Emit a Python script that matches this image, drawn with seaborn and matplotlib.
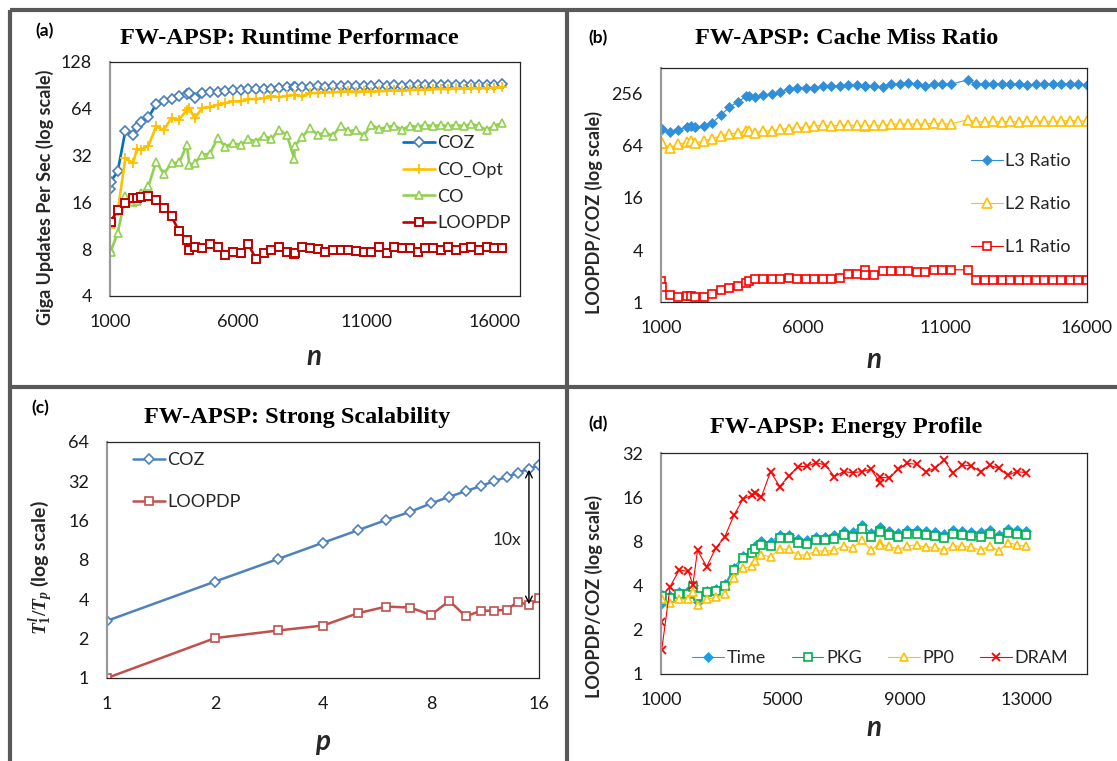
import matplotlib
matplotlib.use("Agg")
import matplotlib.pyplot as plt
import seaborn as sns
from matplotlib.lines import Line2D

# ---------------- data ----------------
# (a) runtime performance
n_a = [1000, 1024, 1300, 1600, 1900, 2048,
       2200, 2500, 2800, 3100, 3400, 3700, 4000,
       4096,
       4300, 4600, 4900, 5200, 5500, 5800, 6100, 6400, 6700, 7000, 7300, 7600, 7900,
       8192,
       8200, 8500, 8800, 9100, 9400, 9700, 10000, 10300, 10600, 10900,
       11200, 11500, 11800, 12100, 12400, 12700, 13000,
       13300, 13600, 13900, 14200, 14500, 14800, 15100, 15400, 15700, 16000, 16300]
coz_a = [19.5, 21.8, 25.3, 46.2, 43.6, 48.8,
         52.3, 56.3, 68.6, 71.4, 73.9, 76.9, 79.6,
         80.8,
         75.0, 80.8, 82.4, 82.4, 83.7, 84.9, 84.9, 85.3, 85.3, 85.7, 85.7, 87.5, 88.0,
         88.0,
         88.0, 88.0, 89.0, 89.5, 89.0, 90.0, 89.5, 90.0, 89.5, 90.0,
         90.0, 90.5, 90.0, 90.5, 90.0, 90.5, 91.0,
         90.5, 91.0, 90.5, 91.0, 91.0, 91.5, 91.0, 91.5, 91.5, 91.0, 92.0]
coopt_a = [11.0, 12.0, 14.0, 30.8, 28.6, 35.2,
           34.9, 37.0, 49.3, 46.9, 55.8, 54.4, 63.1,
           64.7,
           55.8, 64.7, 65.7, 68.0, 69.7, 71.4, 71.4, 73.9, 73.9, 75.0, 76.9, 76.0, 77.6,
           78.9,
           78.9, 76.9, 80.8, 80.8, 81.6, 81.6, 82.4, 82.8, 81.6, 82.8,
           82.4, 83.0, 83.5, 84.0, 83.5, 84.5, 85.0,
           84.5, 85.5, 86.0, 85.5, 86.5, 86.0, 87.0, 86.5, 87.0, 87.5, 88.0]
co_a = [8.0, 7.7, 10.2, 17.5, 16.0, 16.4,
        18.3, 20.3, 29.3, 24.4, 28.6, 28.9, 37.5,
        27.9,
        28.6, 32.4, 33.0, 41.5, 36.6, 38.5, 37.5, 40.9, 39.4, 42.9, 41.0, 46.9, 43.6,
        30.4,
        36.8, 42.1, 48.1, 43.6, 45.1, 42.9, 49.8, 45.8, 46.9, 42.9,
        50.5, 47.4, 48.9, 49.8, 46.9, 49.8, 48.9,
        50.5, 49.3, 50.5, 49.3, 50.5, 49.3, 51.3, 49.3, 46.9, 49.8, 51.8]
loopdp_a = [12.0, 12.0, 14.3, 15.9, 17.0, 17.0,
            17.4, 17.5, 16.6, 14.7, 13.0, 10.4, 9.2,
            7.9,
            8.3, 8.1, 8.7, 8.3, 7.3, 7.7, 7.6, 8.6, 6.9, 7.6, 7.9, 8.3, 7.7,
            7.5,
            7.6, 8.3, 8.1, 8.0, 7.7, 7.9, 7.9, 7.9, 7.8, 7.7,
            7.7, 8.3, 7.6, 8.3, 8.2, 8.1, 7.7,
            8.2, 8.2, 7.9, 8.3, 7.9, 8.2, 8.3, 7.9, 8.3, 8.1, 8.1]

# (b) cache miss ratio
n_b = [1000, 1024, 1300, 1600, 1900, 2048,
       2200, 2500, 2800, 3100, 3400, 3700, 4000,
       4096,
       4300, 4600, 4900, 5200, 5500, 5800, 6100, 6400, 6700, 7000, 7300, 7600, 7900,
       8192,
       8200, 8500, 8800, 9100, 9400, 9700, 10000, 10300, 10600, 10900,
       11200,
       11800, 12100, 12400, 12700, 13000,
       13300, 13600, 13900, 14200, 14500, 14800, 15100, 15400, 15700, 16000]
l3_b = [102, 100, 94, 99, 105, 108,
        105, 108, 118, 146, 179, 208, 240,
        245,
        234, 249, 256, 268, 293, 298, 303, 303, 314, 320, 320, 325, 325,
        320,
        320, 314, 307, 332, 335, 341, 335, 314, 335, 332,
        332,
        373, 332, 332, 332, 332,
        332, 332, 325, 332, 332, 332, 332, 332, 335, 325]
l2_b = [70, 70, 61, 67, 71, 73,
        70, 73, 78, 84, 88, 91, 96,
        96,
        91, 96, 96, 100, 102, 105, 105, 110, 111, 110, 111, 111, 111,
        109,
        111, 111, 111, 114, 115, 115, 115, 115, 118, 115,
        115,
        129, 122, 122, 123, 122,
        123, 122, 123, 124, 124, 123, 125, 126, 125, 124]
l1_b = [1.77, 1.51, 1.21, 1.15, 1.18, 1.18,
        1.15, 1.15, 1.24, 1.36, 1.44, 1.54, 1.68,
        1.77,
        1.85, 1.85, 1.85, 1.85, 1.89, 1.85, 1.85, 1.85, 1.85, 1.85, 1.89, 2.10, 2.10,
        2.36,
        2.06, 2.06, 2.26, 2.26, 2.26, 2.26, 2.22, 2.20, 2.36, 2.36,
        2.36,
        2.36, 1.80, 1.80, 1.80, 1.80,
        1.80, 1.80, 1.80, 1.80, 1.80, 1.80, 1.80, 1.80, 1.80, 1.80]

# (c) strong scalability
p_c = [1, 2, 3, 4, 5, 6, 7, 8, 9, 10, 11, 12, 13, 14, 15, 16]
coz_c = [2.74, 5.47, 8.15, 10.85, 13.5, 16.2, 18.7, 21.7, 24.4, 26.9, 29.4, 32.1,
         34.6, 37.2, 40.1, 42.3]
loopdp_c = [1.0, 2.02, 2.31, 2.52, 3.13, 3.52, 3.46, 3.04, 3.89, 2.96, 3.27, 3.28,
            3.32, 3.85, 3.59, 4.08]

# (d) energy profile
n_d = [1000, 1024, 1300, 1600, 1900, 2048,
       2200, 2500, 2800, 3100, 3400, 3700, 4000,
       4096,
       4300, 4600, 4900, 5200, 5500, 5800, 6100, 6400, 6700, 7000, 7300, 7600, 7900,
       8192,
       8200, 8500, 8800, 9100, 9400, 9700, 10000, 10300, 10600, 10900,
       11200, 11500, 11800, 12100, 12400, 12700, 13000]
time_d = [3.0, 3.45, 3.4, 3.6, 3.65, 4.05,
          3.1, 3.7, 3.8, 4.1, 5.3, 6.4, 7.0,
          7.5,
          8.0, 7.9, 8.9, 8.9, 8.3, 8.2, 8.6, 8.6, 8.8, 9.4, 9.2, 10.4, 9.1,
          10.1,
          9.9, 9.4, 9.1, 9.5, 9.6, 9.4, 9.3, 9.0, 9.5, 9.4,
          9.3, 9.2, 9.5, 8.9, 9.7, 9.5, 9.4]
pkg_d = [3.42, 3.42, 3.3, 3.49, 3.5, 3.94,
         3.42, 3.59, 3.7, 3.98, 5.11, 6.14, 6.64,
         7.07,
         7.57, 7.45, 8.4, 8.4, 7.84, 7.74, 8.18, 8.18, 8.3, 8.85, 8.6, 9.67, 8.53,
         9.47,
         9.3, 8.85, 8.53, 8.95, 9.0, 8.85, 8.7, 8.45, 8.95, 8.85,
         8.75, 8.6, 8.95, 8.3, 9.1, 8.95, 8.85]
pp0_d = [3.23, 3.23, 3.03, 3.23, 3.23, 3.63,
         2.95, 3.23, 3.33, 3.5, 4.5, 5.25, 5.44,
         5.91,
         6.46, 6.3, 7.07, 7.07, 6.46, 6.46, 6.92, 6.83, 6.98, 7.45, 7.2, 8.18, 6.98,
         7.75,
         7.6, 7.45, 7.07, 7.45, 7.57, 7.3, 7.3, 6.98, 7.45, 7.4,
         7.3, 6.98, 7.45, 6.9, 7.85, 7.57, 7.4]
dram_d = [2.27, 1.46, 3.94, 5.12, 4.99, 4.04,
          6.97, 5.38, 7.2, 8.63, 12.1, 15.6, 16.5,
          17.2,
          16.1, 23.9, 18.9, 22.3, 25.8, 26.0, 27.5, 26.5, 22.1, 23.9, 23.5, 23.9, 24.8,
          20.1,
          21.9, 21.6, 24.8, 27.2, 26.8, 23.9, 25.1, 28.6, 23.5, 26.5,
          26.1, 23.9, 26.5, 25.1, 22.6, 23.9, 23.5]

# tick values / labels
yt_a = [4, 8, 16, 32, 64, 128]
yt_b = [1, 4, 16, 64, 256]
yt_c = [1, 2, 4, 8, 16, 32, 64]
yt_d = [1, 2, 4, 8, 16, 32]
xt_ab = [1000, 6000, 11000, 16000]
xt_c = [1, 2, 4, 8, 16]
xt_d = [1000, 5000, 9000, 13000]

# ---------------- style ----------------
sns.set_theme(style="white")
plt.rcParams["font.family"] = ["Lato", "DejaVu Sans"]
plt.rcParams["mathtext.fontset"] = "custom"
plt.rcParams["mathtext.it"] = "Liberation Serif:bold:italic"
plt.rcParams["mathtext.rm"] = "Liberation Serif:bold"
plt.rcParams["mathtext.bf"] = "Liberation Serif:bold"

W, H = 1117, 761
fig = plt.figure(figsize=(W / 100, H / 100), dpi=100)
fig.patch.set_facecolor("white")


def rect(l, t, r, b):
    return [l / W, 1 - b / H, (r - l) / W, (b - t) / H]


ax_a = fig.add_axes(rect(110, 62, 520, 296))
ax_b = fig.add_axes(rect(661, 68, 1087, 302))
ax_c = fig.add_axes(rect(107, 442, 539, 678))
ax_d = fig.add_axes(rect(661, 453, 1087, 674))


def series(ax, x, y, color, marker, ms, lw, label, mfc="white", mec=None, mew=1.2, z=2):
    sns.lineplot(x=x, y=y, ax=ax, color=color, marker=marker, markersize=ms,
                 linewidth=lw, markerfacecolor=mfc,
                 markeredgecolor=mec if mec else color, markeredgewidth=mew,
                 label=label, estimator=None, sort=False, zorder=z)


# (a)
series(ax_a, n_a, coz_a, "#0070C0", "D", 4.8, 1.9, "COZ", mec="#4A7EBB")
series(ax_a, n_a, coopt_a, "#FFC000", "+", 6.8, 1.9, "CO_Opt", mew=1.3)
series(ax_a, n_a, co_a, "#92D050", "^", 6.3, 1.9, "CO")
series(ax_a, n_a, loopdp_a, "#C00000", "s", 6.4, 1.9, "LOOPDP", mew=1.4)

# (b)
series(ax_b, n_b, l3_b, "#2F8FDA", "D", 4.8, 0.8, "L3 Ratio", mfc="#2F8FDA", mew=0.5)
series(ax_b, n_b, l2_b, "#FFC000", "^", 6.5, 0.8, "L2 Ratio")
series(ax_b, n_b, l1_b, "#FF0000", "s", 6.2, 0.8, "L1 Ratio")

# (c)
series(ax_c, p_c, coz_c, "#4F81BD", "D", 4.6, 1.8, "COZ")
series(ax_c, p_c, loopdp_c, "#C0504D", "s", 6.4, 1.8, "LOOPDP")

# (d)
series(ax_d, n_d, time_d, "#1BA1E2", "D", 4.8, 0.8, "Time", mfc="#1BA1E2", mew=0.5)
series(ax_d, n_d, pkg_d, "#00B050", "s", 6.2, 0.8, "PKG")
series(ax_d, n_d, pp0_d, "#FFC000", "^", 6.2, 0.8, "PP0")
series(ax_d, n_d, dram_d, "#FF0000", "x", 6.2, 0.8, "DRAM", mew=1.3)

# annotation in (c)
ax_c.annotate("", xy=(p_c[14], loopdp_c[14] * 1.02), xytext=(p_c[14], coz_c[14] * 0.98),
              arrowprops=dict(arrowstyle="<->", color="black", lw=1.0,
                              shrinkA=0, shrinkB=0, mutation_scale=12))
ax_c.text(13.0, 11.4, "10x", fontsize=12.5, ha="center", va="center", color="#262626")

# axes formatting
tick_fs = 13
for ax, yt, xt, xlim, ylim, logx in [
    (ax_a, yt_a, xt_ab, (1000, 17000), (4, 128), False),
    (ax_b, yt_b, xt_ab, (1000, 16000), (1, 512), False),
    (ax_c, yt_c, xt_c, (1, 16), (1, 64), True),
    (ax_d, yt_d, xt_d, (1000, 15000), (1, 32), False),
]:
    ax.set_yscale("log", base=2)
    if logx:
        ax.set_xscale("log", base=2)
    ax.set_xlim(*xlim)
    ax.set_ylim(*ylim)
    ax.set_yticks(yt)
    ax.set_yticklabels([str(v) for v in yt])
    ax.set_xticks(xt)
    ax.set_xticklabels([str(v) for v in xt])
    ax.minorticks_off()
    ax.tick_params(axis="both", length=0, labelsize=tick_fs, colors="#1a1a1a", pad=13)
    ax.grid(False)
    ax.set_facecolor("white")
    for s in ["top", "right", "bottom"]:
        ax.spines[s].set_color("#262626")
        ax.spines[s].set_linewidth(0.9)
    ax.spines["left"].set_color("#9a9a9a")
    ax.spines["left"].set_linewidth(1.6)
    for s in ax.spines.values():
        s.set_visible(True)

# axis labels
lab_fs = 13
ax_a.set_ylabel("Giga Updates Per Sec (log scale)", fontsize=lab_fs, fontweight="bold")
ax_b.set_ylabel("LOOPDP/COZ (log scale)", fontsize=lab_fs, fontweight="bold")
ax_c.set_ylabel(r"$T_1^{l}/T_p$ (log scale)", fontsize=lab_fs + 1, fontweight="bold")
ax_d.set_ylabel("LOOPDP/COZ (log scale)", fontsize=lab_fs, fontweight="bold")
for ax, xl in [(ax_a, "n"), (ax_b, "n"), (ax_c, "p"), (ax_d, "n")]:
    ax.set_xlabel(xl, fontsize=20, fontweight="bold", fontstyle="italic")


def place_ylabel(ax, box, xc, yc):
    l, t, r, b = box
    ax.yaxis.label.set_va("center")
    ax.yaxis.set_label_coords((xc - l) / (r - l), (b - yc) / (b - t))


def place_xlabel(ax, box, xc, yc):
    l, t, r, b = box
    ax.xaxis.label.set_va("center")
    ax.xaxis.set_label_coords((xc - l) / (r - l), (b - yc) / (b - t))


box_a = (110, 62, 520, 296)
box_b = (661, 68, 1087, 302)
box_c = (107, 442, 539, 678)
box_d = (661, 453, 1087, 674)
place_ylabel(ax_a, box_a, 45, 197)
place_ylabel(ax_b, box_b, 594, 213)
place_ylabel(ax_c, box_c, 41, 568)
place_ylabel(ax_d, box_d, 594, 596)
place_xlabel(ax_a, box_a, 314, 357)
place_xlabel(ax_b, box_b, 874, 360)
place_xlabel(ax_c, box_c, 323, 742)
place_xlabel(ax_d, box_d, 874, 728)

# legends
leg_fs = 13
ax_a.legend(loc="upper left", bbox_to_anchor=((403 - 110) / 410, (296 - 135) / 234),
            frameon=False, fontsize=leg_fs, handlelength=1.75, handletextpad=0.15,
            labelspacing=0.6, borderpad=0, borderaxespad=0)
ax_b.legend(loc="upper left", bbox_to_anchor=((971 - 661) / 426, (302 - 153) / 234),
            frameon=False, fontsize=leg_fs, handlelength=1.75, handletextpad=0.15,
            labelspacing=1.5, borderpad=0, borderaxespad=0)
ax_c.legend(loc="upper left", bbox_to_anchor=((133 - 107) / 432, (678 - 452) / 236),
            frameon=False, fontsize=leg_fs, handlelength=1.75, handletextpad=0.15,
            labelspacing=1.45, borderpad=0, borderaxespad=0)
ax_d.legend(loc="center left", bbox_to_anchor=((692 - 661) / 426, (674 - 658) / 221),
            frameon=False, fontsize=leg_fs, handlelength=1.75, handletextpad=0.15,
            ncol=4, columnspacing=1.45, borderpad=0, borderaxespad=0)

# titles and panel letters
title_kw = dict(fontsize=17.5, fontweight="bold", family=["Liberation Serif", "DejaVu Serif"],
                ha="center", va="center", color="black")
fig.text(289 / W, 1 - 38 / H, "FW-APSP: Runtime Performace", **title_kw)
fig.text(847 / W, 1 - 39 / H, "FW-APSP: Cache Miss Ratio", **title_kw)
fig.text(297 / W, 1 - 417 / H, "FW-APSP: Strong Scalability", **title_kw)
fig.text(846 / W, 1 - 427 / H, "FW-APSP: Energy Profile", **title_kw)
let_kw = dict(fontsize=12.5, fontweight="bold", ha="center", va="center", color="black")
fig.text(45 / W, 1 - 31 / H, "(a)", **let_kw)
fig.text(598 / W, 1 - 38 / H, "(b)", **let_kw)
fig.text(40 / W, 1 - 408 / H, "(c)", **let_kw)
fig.text(598 / W, 1 - 424 / H, "(d)", **let_kw)

# panel borders
bc, bw = "#595959", 3.0
for xs, ys in [((10 / W, 1.0), (1 - 10 / H, 1 - 10 / H)),
               ((10 / W, 10 / W), (0.0, 1 - 10 / H)),
               ((567 / W, 567 / W), (0.0, 1 - 10 / H)),
               ((10 / W, 1.0), (1 - 387 / H, 1 - 387 / H))]:
    fig.add_artist(Line2D(xs, ys, color=bc, linewidth=bw, transform=fig.transFigure,
                          solid_capstyle="butt"))

fig.savefig("out.png", dpi=100, facecolor="white")
